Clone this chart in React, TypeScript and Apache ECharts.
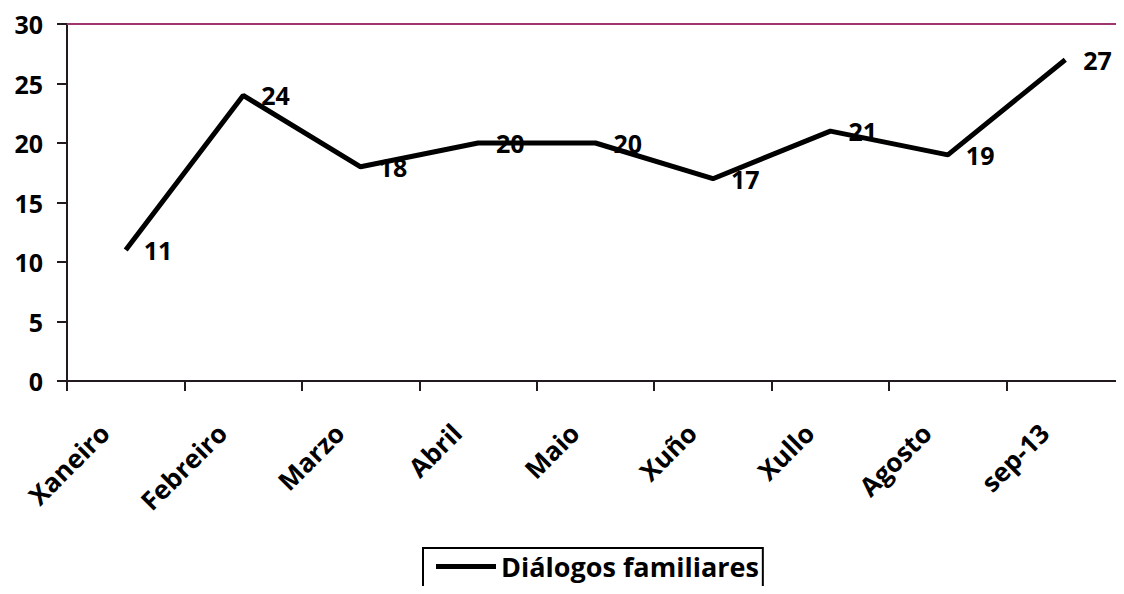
import React, { useEffect, useRef } from "react";
import * as echarts from "echarts";

const categories = ["Xaneiro", "Febreiro", "Marzo", "Abril", "Maio", "Xuño", "Xullo", "Agosto", "sep-13"];
const seriesName = "Diálogos familiares";
const values = [11, 24, 18, 20, 20, 17, 21, 19, 27];
const yMin = 0;
const yMax = 30;
const yInterval = 5;

const FONT = "Open Sans";

export default function App() {
  const ref = useRef<HTMLDivElement>(null);
  useEffect(() => {
    if (!ref.current) return;
    const chart = echarts.init(ref.current, undefined, { renderer: "svg" });
    chart.setOption({
      animation: false,
      backgroundColor: "#ffffff",
      textStyle: { fontFamily: FONT },
      grid: { left: 67, right: 0, top: 24, bottom: 213, containLabel: false },
      xAxis: {
        type: "category",
        data: categories,
        boundaryGap: true,
        axisLine: { show: true, lineStyle: { color: "#231a1f", width: 2 } },
        axisTick: { show: true, length: 10, lineStyle: { color: "#231a1f", width: 2 } },
        axisLabel: {
          rotate: 45,
          margin: 26,
          padding: [0, 30, 0, 0],
          color: "#000",
          fontFamily: FONT,
          fontWeight: "bold",
          fontSize: 26,
          interval: 0,
        },
        splitLine: { show: false },
      },
      yAxis: {
        type: "value",
        min: yMin,
        max: yMax,
        interval: yInterval,
        axisLine: { show: true, lineStyle: { color: "#231a1f", width: 2 } },
        axisTick: { show: true, length: 10, lineStyle: { color: "#231a1f", width: 2 } },
        axisLabel: {
          margin: 24,
          color: "#000",
          fontFamily: FONT,
          fontWeight: "bold",
          fontSize: 25,
        },
        splitLine: { show: false },
      },
      legend: {
        show: true,
        left: 423,
        top: 548,
        orient: "horizontal",
        borderColor: "#000",
        borderWidth: 2,
        padding: [5, 4, 14, 13],
        icon: "rect",
        itemWidth: 60,
        itemHeight: 5,
        itemGap: 8,
        textStyle: { color: "#000", fontFamily: FONT, fontWeight: "bold", fontSize: 27 },
        data: [seriesName],
      },
      series: [
        {
          name: seriesName,
          type: "line",
          data: values,
          symbol: "circle",
          symbolSize: 0,
          showSymbol: true,
          lineStyle: { color: "#000", width: 5 },
          itemStyle: { color: "#000" },
          label: {
            show: true,
            position: "right",
            distance: 18,
            color: "#000",
            fontFamily: FONT,
            fontWeight: "bold",
            fontSize: 25,
          },
          markLine: {
            silent: true,
            symbol: "none",
            label: { show: false },
            lineStyle: { color: "#a03670", width: 2, type: "solid" },
            data: [{ yAxis: yMax }],
          },
        },
      ],
    });
    return () => chart.dispose();
  }, []);
  return <div ref={ref} style={{ width: 1124, height: 594, margin: -8 }} />;
}
